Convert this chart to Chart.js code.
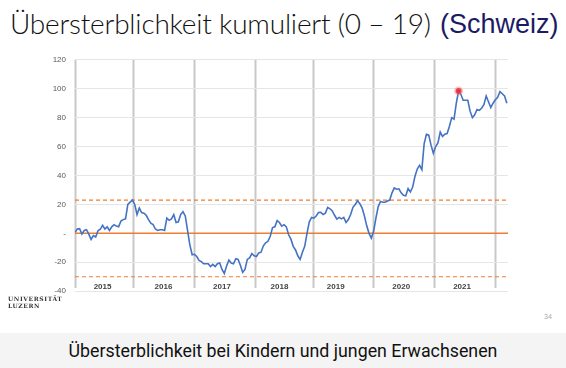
<!DOCTYPE html>
<html>
<head>
  <title>Übersterblichkeit kumuliert (0 – 19)</title>
  <script src="https://cdn.jsdelivr.net/npm/chart.js"></script>
  <style>
    body {
      margin: 0;
      width: 566px;
      height: 368px;
      background: #fff;
      position: relative;
      overflow: hidden;
    }
    #title {
      position: absolute;
      left: 10px;
      top: 6px;
      font-family: Lato, "Open Sans", sans-serif;
      font-weight: 300;
      font-size: 28px;
      letter-spacing: -0.2px;
      color: #111;
      white-space: nowrap;
    }
    #country {
      position: absolute;
      left: 440px;
      top: 9px;
      font-family: "Liberation Sans", Arial, sans-serif;
      font-size: 27px;
      color: #1c1a66;
      white-space: nowrap;
    }
    #chartBox {
      position: absolute;
      left: 0;
      top: 46px;
    }
    #logo {
      position: absolute;
      left: 8px;
      top: 295px;
      font-family: "DejaVu Serif", "Liberation Serif", serif;
      font-weight: bold;
      font-size: 6px;
      line-height: 7px;
      letter-spacing: 0.6px;
      color: #333;
    }
    #page {
      position: absolute;
      left: 544px;
      top: 313px;
      font-family: "Liberation Sans", Arial, sans-serif;
      font-size: 7px;
      color: #aaa;
    }
    #caption {
      position: absolute;
      left: 0;
      top: 333px;
      width: 566px;
      height: 35px;
      background: #f4f4f4;
      font-family: Roboto, sans-serif;
      font-size: 17.8px;
      line-height: 35px;
      text-align: center;
      color: #111;
    }
  </style>
</head>
<body>
  <div id="title">Übersterblichkeit kumuliert (0 – 19)</div>
  <div id="country">(Schweiz)</div>
  <div id="chartBox"><canvas id="excessChart" width="566" height="259"></canvas></div>
  <div id="logo">UNIVERSITÄT<br>LUZERN</div>
  <div id="page">34</div>
  <div id="caption">Übersterblichkeit bei Kindern und jungen Erwachsenen</div>

  <script>
    // cumulative excess mortality, ages 0-19, read every 2nd week from Jan 2015
    const weekStep = 2;
    const excess = [
      0.7, 3, 3.2, -0.5, 2, 2.5, -0.5, -4.2, -1.6, -2.5,
      1.8, 2.8, 5.5, 3, 4.5, 2, 4.5, 6, 5, 4.5,
      8.5, 9.5, 10, 20, 21.6, 23, 20, 13, 17.5, 14.4,
      14, 12.5, 9.5, 7, 6, 3, 2, 2.5, 2.5, 2,
      10.5, 9, 10, 13, 7.5, 8, 13, 15, 12, 2,
      -8, -14.8, -14.5, -16, -18.7, -19.5, -21, -21, -21, -23,
      -21.5, -23, -21, -20.5, -25, -27.8, -22.5, -18.5, -20.5, -21,
      -17.5, -18, -22, -27, -25, -18, -17, -14, -15.5, -16,
      -13.5, -13, -8.6, -6.5, -5.5, -2, 4, 4.5, 8.8, 7.5,
      5, 6, 4.5, -1, -4, -9, -11.5, -15.5, -18, -13,
      -9, 0, 8, 11, 10.5, 12, 14.4, 14.5, 13, 14,
      18, 17, 15.5, 12.5, 9.8, 11, 10, 11, 7.5, 9.5,
      13, 18, 20, 22.5, 20.5, 17.5, 12, 5.2, 0, -3.3,
      1.5, 10.5, 18.5, 22, 21.5, 21.5, 22.3, 23, 28, 31.4,
      30.5, 30.8, 28, 26.3, 26, 31, 28.6, 32, 39.5, 44.5,
      47, 44, 62, 68.5, 68, 61, 55.3, 60, 62.5, 70,
      67, 68.5, 69, 74, 80, 79, 90, 98.5, 96, 92,
      92, 92, 84.5, 80, 82, 85.6, 85, 86.5, 89, 95,
      91, 87, 90, 92.4, 94, 98, 96.5, 95, 90
    ];
    const peakIndex = 167;

    const years = ['2015', '2016', '2017', '2018', '2019', '2020', '2021'];
    const yearStarts = [0, 51, 104, 157, 208, 260, 313, 366];   // week index of each Jan 1
    const yearLabelPos = [24, 77, 128, 178, 227, 284, 337];
    const upperBand = 23;
    const lowerBand = -30;
    const xMin = 0, xMax = 377;

    const lineFont = { family: 'Liberation Sans', size: 8 };

    const ctx = document.getElementById('excessChart').getContext('2d');
    new Chart(ctx, {
      type: 'line',
      data: {
        datasets: [
          {
            data: excess.map((v, i) => ({ x: i * weekStep, y: v })),
            borderColor: '#4472C4',
            borderWidth: 1.6,
            pointRadius: 0,
            tension: 0,
            order: 1
          },
          {
            data: [{ x: peakIndex * weekStep, y: excess[peakIndex] }],
            showLine: false,
            pointRadius: 3,
            pointBackgroundColor: '#e3303a',
            pointBorderColor: 'rgba(240,110,120,0.4)',
            pointBorderWidth: 3,
            order: 0
          },
          {
            data: [{ x: xMin, y: 0 }, { x: xMax, y: 0 }],
            borderColor: '#ED7D31',
            borderWidth: 1.5,
            pointRadius: 0,
            order: 2
          },
          {
            data: [{ x: xMin, y: upperBand }, { x: xMax, y: upperBand }],
            borderColor: '#ED7D31',
            borderWidth: 1.2,
            borderDash: [4, 3],
            pointRadius: 0,
            order: 2
          },
          {
            data: [{ x: xMin, y: lowerBand }, { x: xMax, y: lowerBand }],
            borderColor: '#ED7D31',
            borderWidth: 1.2,
            borderDash: [4, 3],
            pointRadius: 0,
            order: 2
          }
        ]
      },
      options: {
        responsive: false,
        animation: false,
        devicePixelRatio: 1,
        layout: { padding: { left: 20, right: 58, top: 5, bottom: 2 } },
        plugins: { legend: { display: false }, tooltip: { enabled: false } },
        scales: {
          x: {
            type: 'linear',
            min: xMin,
            max: xMax,
            position: { y: lowerBand },
            afterBuildTicks: s => { s.ticks = yearLabelPos.map(v => ({ value: v })); },
            ticks: {
              autoSkip: false,
              maxRotation: 0,
              padding: -3,
              font: { family: 'Liberation Sans', size: 8, weight: 'bold' },
              color: '#444',
              callback: (v, i) => years[i]
            },
            grid: { display: false },
            border: { display: false }
          },
          xYears: {
            type: 'linear',
            axis: 'x',
            min: xMin,
            max: xMax,
            position: { y: 120 },
            afterBuildTicks: s => { s.ticks = yearStarts.map(v => ({ value: v })); },
            ticks: { display: false },
            grid: {
              drawOnChartArea: false,
              drawTicks: true,
              tickLength: 228,
              tickColor: '#c8c8c8',
              tickWidth: 2
            },
            border: { display: false }
          },
          y: {
            min: -40,
            max: 120,
            afterFit: s => { s.width = 55; },
            ticks: {
              stepSize: 20,
              padding: 9,
              font: lineFont,
              color: '#595959',
              callback: v => (v === 0 ? '-' : v)
            },
            grid: { color: '#e6e6e6', lineWidth: 1, drawTicks: false },
            border: { display: false }
          }
        }
      }
    });
  </script>
</body>
</html>
